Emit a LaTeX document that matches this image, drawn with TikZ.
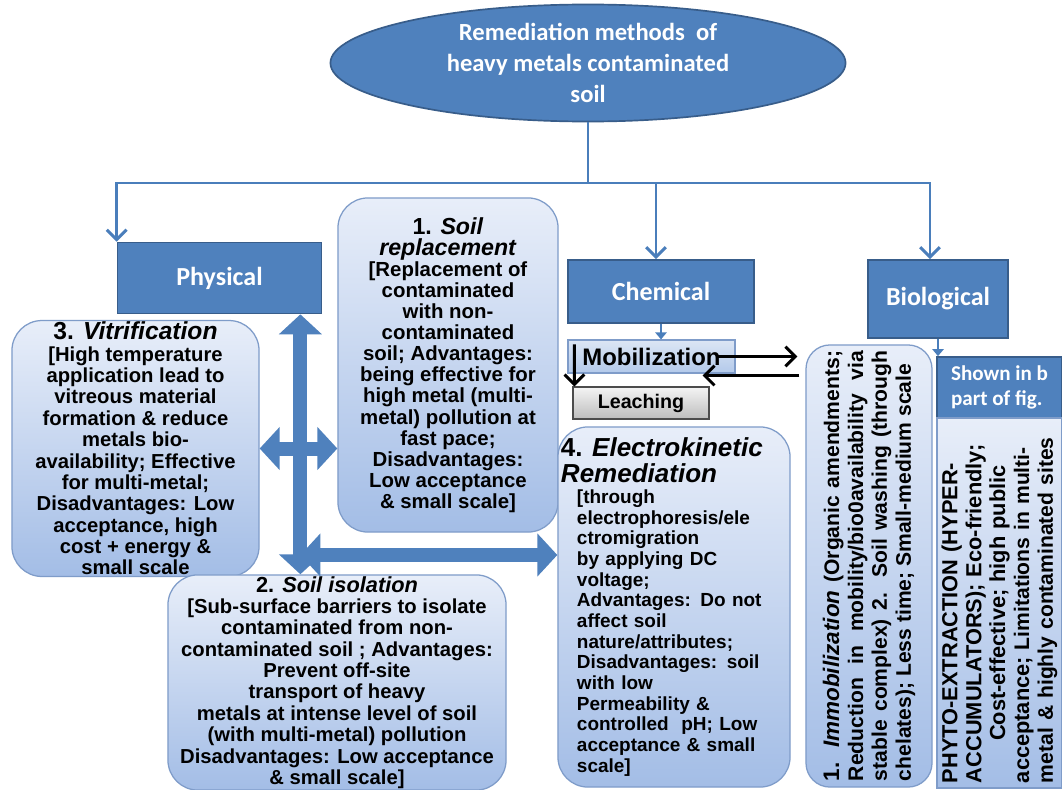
\documentclass[tikz,border=0pt]{standalone}
\usepackage{fontspec}
\setmainfont{Liberation Sans}
\newfontfamily\calibri{Carlito}
\usetikzlibrary{shapes.geometric, arrows.meta, positioning, calc}

\definecolor{boxblue}{HTML}{4F81BD}
\definecolor{boxedge}{HTML}{385D8A}
\definecolor{paletop}{HTML}{E8EEF9}
\definecolor{palebot}{HTML}{A3BDE6}
\definecolor{paleedge}{HTML}{7F9CC9}
\definecolor{mobtop}{HTML}{DCE6F4}
\definecolor{mobbot}{HTML}{B3C9EA}
\definecolor{greytop}{HTML}{F4F4F4}
\definecolor{greybot}{HTML}{BDBDBD}
\definecolor{linkblue}{HTML}{4A7EBB}

\begin{document}
\begin{tikzpicture}[
  x=0.025cm, y=-0.025cm,
  topnode/.style={ellipse, draw=boxedge, line width=1.2pt, fill=boxblue, text=white, minimum width=12.875cm, minimum height=2.925cm, inner sep=0pt, align=center, font=\calibri\bfseries\fontsize{17.5}{22}\selectfont},
  groupnode/.style={rectangle, draw=boxedge, line width=1.2pt, fill=boxblue, text=white, align=center, font=\calibri\bfseries\fontsize{18.5}{22}\selectfont},
  methnode/.style={rectangle, rounded corners=0.75cm, draw=paleedge, line width=0.9pt, top color=paletop, bottom color=palebot, align=center, inner sep=1pt, font=\bfseries\fontsize{14.4}{15.2}\selectfont},
  sidenode/.style={rectangle, rounded corners=0.6cm, draw=paleedge, line width=0.9pt, top color=paletop, bottom color=palebot},
  chemstep/.style={rectangle, line width=0.8pt, inner sep=1pt, font=\bfseries},
  rottext/.style={rotate=90, inner sep=0pt, font=\bfseries\fontsize{15}{17}\selectfont},
  treeline/.style={draw=linkblue, line width=2.1pt},
  treearrow/.style={treeline, -{Straight Barb[length=7pt,width=14pt]}},
  smallarrow/.style={draw=linkblue, line width=1.2pt, -{Triangle[length=5pt,width=8pt]}},
  blkarrow/.style={draw=black, line width=2.1pt, -{Straight Barb[length=7pt,width=14pt]}},
  bigarrow/.style={draw=boxblue, line width=0.35cm, {Triangle[length=0.5cm,width=1.05cm]}-{Triangle[length=0.5cm,width=1.05cm]}}
]
\path[use as bounding box, fill=white] (0,0) rectangle (1062,789);

% root and the three groups
\node[topnode] (root) at (588,63) {Remediation methods\ \ of\\ heavy metals contaminated\\ soil};

\node[groupnode, minimum width=5.1cm, minimum height=1.775cm] (phys) at (219.5,278) {Physical};
\node[groupnode, minimum width=4.65cm, minimum height=1.575cm] (chem) at (661,291.5) {Chemical};
\node[groupnode, minimum width=3.5cm, minimum height=1.95cm] (bio) at (938,299) {Biological};

\coordinate (bar) at (588,183);
\draw[treeline] (root.south) -- (bar);
\draw[treearrow] (bar) -| (phys.north west);
\draw[treearrow] (bar) -| ($(chem.north)+(-5,0)$);
\draw[treearrow] (bar) -| ($(bio.north)+(-8,0)$);

% physical methods
\node[methnode, minimum width=5.5cm, minimum height=8.35cm, font=\bfseries\fontsize{14.5}{15}\selectfont] (repl) at (448,365) {{\fontsize{16.5}{18}\selectfont 1. \textit{Soil}}\\ {\fontsize{16.5}{18}\selectfont\textit{replacement}}\\ {[}Replacement of\\ contaminated\\ with non-\\ contaminated\\ soil; Advantages:\\ being effective for\\ high metal (multi-\\ metal) pollution at\\ fast pace;\\ Disadvantages:\\ Low acceptance\\ \& small scale]};

\node[methnode, minimum width=6.175cm, minimum height=6.225cm] (vitr) at (135.5,448.5) {{\fontsize{17.5}{18}\selectfont 3. \textit{Vitrification}}\\ {[}High temperature\\ application lead to\\ vitreous material\\ formation \& reduce\\ metals bio-\\ availability; Effective\\ for multi-metal;\\ Disadvantages: Low\\ acceptance, high\\ cost + energy \&\\ small scale};

\node[methnode, minimum width=8.45cm, minimum height=5.225cm] (isol) at (337,682.5) {{\fontsize{15.5}{17}\selectfont 2. \textit{Soil isolation}}\\ {[}Sub-surface barriers to isolate\\ contaminated from non-\\ contaminated soil ; Advantages:\\ Prevent off-site\\ transport of heavy\\ metals at intense level of soil\\ (with multi-metal) pollution\\ Disadvantages: Low acceptance\\ \& small scale]};

% chemical methods
\node[chemstep, draw=paleedge, top color=mobtop, bottom color=mobbot, minimum width=4.175cm, minimum height=0.825cm, font=\bfseries\fontsize{17}{18}\selectfont] (mobil) at (651.5,356.5) {Mobilization};
\node[chemstep, draw=black!70, top color=greytop, bottom color=greybot, minimum width=3.4cm, minimum height=0.8cm, font=\bfseries\fontsize{14}{15}\selectfont] (leach) at (641,403) {Leaching};

\node[methnode, minimum width=5.8cm, minimum height=9cm, text width=4.85cm, align=left, font=\bfseries\fontsize{13.5}{14.7}\selectfont] (elec) at (674,607) {\hspace*{-0.4cm}{\fontsize{18.5}{20}\selectfont 4. \textit{Electrokinetic}}\\[4pt] \hspace*{-0.4cm}{\fontsize{18.5}{20}\selectfont\textit{Remediation}}\\ {[}through\\ electrophoresis/ele\\ ctromigration\\ by applying DC\\ voltage;\\ Advantages: Do not\\ affect soil\\ nature/attributes;\\ Disadvantages: soil\\ with low\\ Permeability \&\\ controlled\ \ pH; Low\\ acceptance \& small\\ scale]};

\node[sidenode, minimum width=3.15cm, minimum height=11.05cm] (immob) at (869,566) {};
\node[rottext, text width=10.75cm, align=justify] (immobtxt) at (immob.center) {\parfillskip=0pt {\fontsize{16}{17}\selectfont 1. \textit{Immobilization}} (Organic amendments;\linebreak Reduction in mobility/bio0availability via\linebreak stable complex) 2. Soil washing (through\linebreak chelates); Less time; Small-medium scale};

% biological methods
\node[groupnode, minimum width=3.125cm, minimum height=1.525cm, align=left, font=\calibri\bfseries\fontsize{15}{18}\selectfont] (shown) at (999.5,387.5) {Shown in b\\ part of fig.};
\node[sidenode, sharp corners, minimum width=3.125cm, minimum height=9.25cm] (phyto) at (999.5,603) {};
\node[rottext, text width=9cm, align=left] (phytotxt) at (phyto.center) {{\fontsize{15.5}{17}\selectfont PHYTO-EXTRACTION (HYPER-\\ ACCUMULATORS); Eco-friendly;\\ \makebox[\linewidth]{Cost-effective; high public}\\ acceptance;} Limitations in multi-\\ metal \& highly contaminated sites};

% connectors
\draw[smallarrow] (chem.south) -- (chem.south |- mobil.north);
\draw[smallarrow] (bio.south) -- (bio.south |- shown.north);

\draw[blkarrow] ($(mobil.east)+(-18,0)$) -- ($(immob.west |- mobil.east)+(-8,0)$);
\draw[blkarrow] ($(immob.west |- mobil.south)+(-6,2)$) -- ($(mobil.south east)+(-33,2)$);
\draw[blkarrow] ($(mobil.north west)+(7,5)$) -- ($(leach.north west)+(2,0)$);

\coordinate (cross) at ($(phys.south east)+(-22,0)$);
\draw[bigarrow] (cross) -- (cross |- isol.north);
\draw[bigarrow] (vitr.east) -- (vitr.east -| repl.west);
\draw[bigarrow] (cross |- 0,555) -- (elec.west |- 0,555);

\end{tikzpicture}
\end{document}
